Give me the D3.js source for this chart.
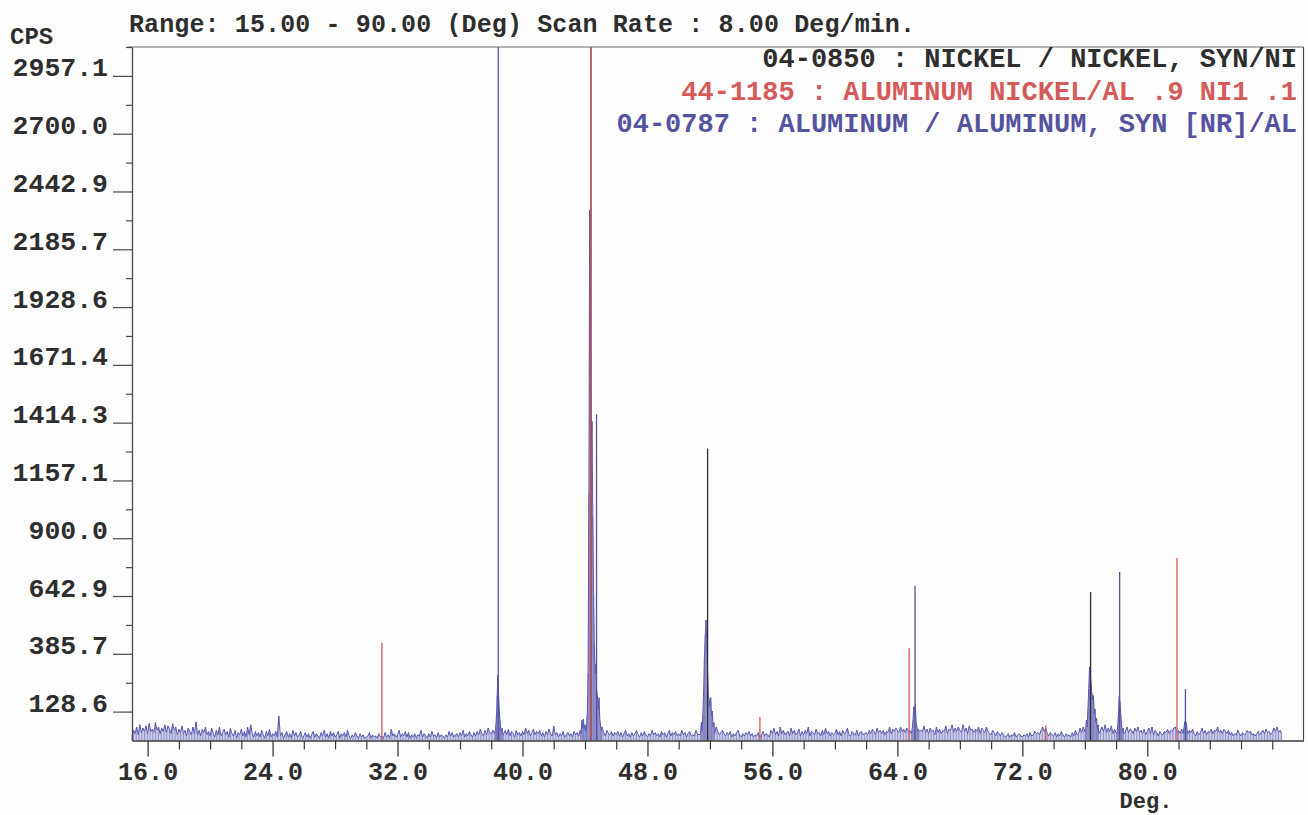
<!DOCTYPE html>
<html>
<head>
<meta charset="utf-8">
<script src="https://cdn.jsdelivr.net/npm/d3@7/dist/d3.min.js"></script>
<style>
  html, body { margin: 0; padding: 0; background: #fdfdfd; }
  svg { display: block; }
  text { font-family: "Liberation Mono", "DejaVu Sans Mono", monospace; font-weight: bold; }
</style>
</head>
<body>
<svg id="chart" width="1308" height="815"></svg>
<script>
// ---- Scan settings ----
const scanRange = [15, 90];          // 2-theta, degrees
const scanStart = 15.0;              // first sample of the measured trace
const scanStep = 0.1;                // sample spacing of the background trace
const yTop = 3085.7;                 // CPS at the top of the frame

// ---- Axis tick labels ----
const yTickLabels = ["128.6", "385.7", "642.9", "900.0", "1157.1", "1414.3",
  "1671.4", "1928.6", "2185.7", "2442.9", "2700.0", "2957.1"];
const yMinorTicks = [257.1, 514.3, 771.4, 1028.6, 1285.7, 1542.9, 1800.0,
  2057.1, 2314.3, 2571.4, 2828.6, 3085.7];
const xTickLabels = ["16.0", "24.0", "32.0", "40.0", "48.0", "56.0", "64.0", "72.0", "80.0"];
const xMinorTicks = [18, 20, 22, 26, 28, 30, 34, 36, 38, 42, 44, 46, 50, 52, 54,
  58, 60, 62, 66, 68, 70, 74, 76, 78, 82, 84, 86, 88];

// ---- Measured background counts, 15.0 .. 88.6 deg every 0.1 deg ----
const noiseCps = [
  20,45,30,60,25,70,35,55,40,65,
  30,75,40,50,35,80,45,60,30,55,
  40,70,35,65,50,30,75,45,60,25,
  50,35,65,30,45,20,55,40,25,60,
  30,83,25,45,20,50,35,60,25,40,
  20,55,30,15,45,25,60,20,35,50,
  25,40,15,55,30,20,45,10,35,25,
  50,20,40,15,60,25,70,30,15,40,
  20,35,15,45,25,10,40,20,50,15,
  30,20,40,15,109,20,35,10,25,40,
  15,30,10,45,20,35,15,25,40,10,
  20,35,15,30,10,25,40,15,30,20,
  10,35,20,45,15,30,10,40,20,35,
  15,25,40,10,30,20,35,15,45,20,
  10,25,15,35,20,10,30,15,25,10,
  15,20,35,10,25,15,20,10,30,15,
  20,10,35,15,25,10,50,20,30,15,
  25,45,15,30,20,40,15,35,10,25,
  15,30,10,25,20,45,15,30,20,10,
  30,15,40,20,25,10,35,15,25,20,
  10,25,15,40,20,35,15,25,30,15,
  35,20,45,15,30,20,40,25,15,35,
  20,40,25,50,30,20,45,25,55,35,
  30,45,25,60,40,50,45,35,30,45,
  25,50,20,40,30,15,45,25,35,20,
  40,25,55,30,45,20,35,50,25,40,
  30,45,20,35,15,40,25,50,30,20,
  64,25,35,15,30,20,40,15,25,35,
  20,30,15,40,25,35,20,45,30,20,
  25,30,20,35,25,30,20,35,25,30,
  30,40,35,20,45,30,25,40,20,35,
  25,40,20,35,15,30,45,20,30,15,
  35,20,30,45,25,15,35,20,40,25,
  15,30,20,45,25,35,20,30,15,40,
  25,35,15,30,45,20,35,25,40,20,
  30,20,45,25,35,15,30,40,20,25,
  20,45,30,25,40,30,25,35,30,25,
  30,25,35,40,60,40,25,35,45,30,
  20,35,25,40,15,30,20,35,45,25,
  15,30,20,35,25,40,20,30,15,25,
  20,35,15,25,40,20,30,25,15,45,
  30,55,25,40,20,60,30,45,25,35,
  40,20,55,30,45,25,35,50,20,40,
  25,45,30,60,20,40,35,25,50,30,
  35,20,45,25,55,30,40,20,35,25,
  30,50,25,40,20,45,30,35,55,25,
  20,40,30,25,45,20,35,40,25,30,
  35,25,45,30,50,40,25,55,35,45,
  30,45,25,40,35,60,30,50,40,55,
  45,35,60,40,50,35,55,40,45,50,
  40,45,50,40,40,45,40,65,35,50,
  30,55,40,45,25,60,35,50,30,45,
  40,65,30,50,45,70,35,55,40,60,
  45,35,70,40,55,30,65,45,50,35,
  50,40,60,30,55,45,35,60,40,30,
  25,45,35,20,40,30,20,35,25,15,
  20,30,15,25,20,35,15,25,30,20,
  15,25,20,30,15,35,20,25,40,30,
  35,25,45,60,40,55,30,20,35,25,
  20,35,15,30,20,40,25,15,30,20,
  25,15,35,20,45,25,30,55,35,60,
  40,50,35,45,40,50,35,45,40,50,
  45,60,40,70,35,55,40,65,30,50,
  35,45,40,40,40,40,40,60,35,50,
  45,30,55,40,60,35,45,30,50,25,
  40,55,30,60,25,45,35,20,40,30,
  25,40,35,50,30,45,40,55,60,35,
  45,30,50,40,40,40,40,45,35,50,
  30,20,40,25,35,55,30,45,25,40,
  35,50,30,45,40,60,35,45,30,50,
  40,30,45,25,35,20,30,25,45,30,
  20,35,25,30,45,35,40,25,30,20,
  30,40,25,35,45,30,50,35,40,25,
  35,55,40,60,35,45,30
];

// ---- Measured reflections, finer sampling [deg, CPS] ----
const peak38 = [[38.20,30],[38.26,45],[38.30,70],[38.34,120],[38.38,200],[38.42,290],
  [38.45,260],[38.48,180],[38.52,130],[38.56,90],[38.60,60],[38.65,40],[38.70,55],[38.75,25],[38.80,30]];
const peak44 = [[43.75,30],[43.80,90],[43.85,55],[43.90,95],[43.95,50],[44.00,70],[44.05,40],
  [44.10,60],[44.15,120],[44.20,300],[44.25,1100],[44.30,2360],[44.35,1900],[44.40,1300],
  [44.45,1420],[44.50,1000],[44.55,650],[44.60,420],[44.65,300],[44.70,340],[44.75,220],
  [44.80,200],[44.85,140],[44.90,190],[44.95,90],[45.00,70],[45.05,45],[45.10,60]];
const peak52 = [[51.40,30],[51.45,80],[51.50,40],[51.55,120],[51.60,230],[51.65,380],[51.70,470],
  [51.75,536],[51.80,430],[51.85,300],[51.90,195],[51.95,180],[52.00,150],[52.05,190],
  [52.10,110],[52.15,130],[52.20,60],[52.25,80],[52.30,30]];
const peak65 = [[64.90,30],[64.95,50],[65.00,90],[65.05,150],[65.10,120],[65.15,160],
  [65.20,80],[65.25,60],[65.30,40],[65.35,50]];
const peak76 = [[76.05,40],[76.10,90],[76.15,60],[76.20,140],[76.25,230],[76.30,328],[76.35,300],
  [76.40,250],[76.45,210],[76.50,180],[76.55,200],[76.60,120],[76.65,140],[76.70,80],
  [76.75,100],[76.80,50],[76.85,70],[76.90,30]];
const peak78 = [[78.05,30],[78.10,60],[78.15,110],[78.20,195],[78.25,170],[78.30,120],
  [78.35,70],[78.40,40],[78.45,55],[78.50,30]];
const peak82 = [[82.30,30],[82.35,55],[82.40,84],[82.45,70],[82.50,80],[82.55,45],[82.60,30]];

// ---- Reference cards: line positions (deg) and relative intensity (%) ----
const niCard = "04-0850 : NICKEL / NICKEL, SYN/NI";
const niAngles = [44.38, 51.85, 76.37];
const niIntensity = [100, 42.1, 21.4];

const nialCard = "44-1185 : ALUMINUM NICKEL/AL .9 NI1 .1";
const nialAngles = [31.0, 44.38, 55.2, 64.75, 73.5, 81.9];
const nialIntensity = [14.1, 100, 3.4, 13.3, 2.2, 26.3];

const alCard = "04-0787 : ALUMINUM / ALUMINUM, SYN [NR]/AL";
const alAngles = [38.45, 44.74, 65.13, 78.23, 82.44];
const alIntensity = [100, 47, 22.3, 24.3, 7.4];

// ---- Layout ----
const svg = d3.select("#chart");
const ink = "#2e2e2e";
const traceColor = "#5a58ae";
const nickelColor = "#303030";
const nialColor = "#d55a5a";
const alColor = "#55539f";

const x = d3.scaleLinear().domain(scanRange).range([132, 1303.5]);
const y = d3.scaleLinear().domain([0, yTop]).range([740.5, 47]);

// Measured trace: background samples outside the peak windows plus the peak profiles
const peaks = [peak38, peak44, peak52, peak65, peak76, peak78, peak82];
const windows = peaks.map(p => [p[0][0], p[p.length - 1][0]]);
const tracePts = noiseCps
  .map((c, i) => [+(scanStart + i * scanStep).toFixed(2), c])
  .filter(d => !windows.some(w => d[0] >= w[0] - 1e-9 && d[0] <= w[1] + 1e-9))
  .concat(...peaks)
  .sort((a, b) => a[0] - b[0]);

// counts drawn as a dense comb from the baseline, outlined by the profile line
svg.append("g").selectAll("line")
  .data(tracePts)
  .join("line")
  .attr("x1", d => x(d[0])).attr("x2", d => x(d[0]))
  .attr("y1", y(0)).attr("y2", d => y(d[1]))
  .attr("stroke", traceColor)
  .attr("stroke-opacity", 0.75)
  .attr("stroke-width", 0.9);

svg.append("path")
  .datum(tracePts)
  .attr("fill", "none")
  .attr("stroke", traceColor)
  .attr("stroke-width", 1)
  .attr("stroke-linejoin", "round")
  .attr("d", d3.line().x(d => x(d[0])).y(d => y(d[1])));

// Reference sticks, scaled so 100 % reaches the top of the frame
function sticks(angles, intensity, color) {
  svg.append("g").selectAll("line")
    .data(angles.map((a, i) => [a, intensity[i]]))
    .join("line")
    .attr("x1", d => x(d[0])).attr("x2", d => x(d[0]))
    .attr("y1", y(0)).attr("y2", d => y(d[1] / 100 * yTop))
    .attr("stroke", color)
    .attr("stroke-width", 1.3);
}
sticks(niAngles, niIntensity, nickelColor);
sticks(alAngles, alIntensity, alColor);
sticks(nialAngles, nialIntensity, nialColor);

// Frame: top and right edges
svg.append("line").attr("x1", 128).attr("x2", x(scanRange[1])).attr("y1", y(yTop)).attr("y2", y(yTop))
  .attr("stroke", "#6a6a6a").attr("stroke-width", 1.2);
svg.append("line").attr("x1", x(scanRange[1])).attr("x2", x(scanRange[1])).attr("y1", y(yTop)).attr("y2", y(0))
  .attr("stroke", "#4a4a4a").attr("stroke-width", 1.2);

// Y axis: labelled ticks with the value sitting on the tick
const yAxis = svg.append("g").attr("transform", `translate(${x(scanRange[0])},0)`)
  .call(d3.axisLeft(y).tickValues(yTickLabels.map(Number)).tickSize(19).tickSizeOuter(0)
    .tickFormat((d, i) => yTickLabels[i]));
yAxis.select(".domain").attr("stroke", "#4a4a4a").attr("stroke-width", 1.3);
yAxis.selectAll(".tick line").attr("stroke", "#4a4a4a").attr("stroke-width", 1.2);
yAxis.selectAll(".tick text").attr("x", -24).attr("dy", "0").attr("dominant-baseline", "auto")
  .attr("fill", ink).style("font-size", "26.5px").style("font-family", null);

const yMinor = svg.append("g").attr("transform", `translate(${x(scanRange[0])},0)`)
  .call(d3.axisLeft(y).tickValues(yMinorTicks).tickSize(6).tickSizeOuter(0).tickFormat(""));
yMinor.select(".domain").remove();
yMinor.selectAll(".tick line").attr("stroke", "#4a4a4a").attr("stroke-width", 1.2);

// X axis
const xAxis = svg.append("g").attr("transform", `translate(0,${y(0)})`)
  .call(d3.axisBottom(x).tickValues(xTickLabels.map(Number)).tickSize(16).tickSizeOuter(0)
    .tickFormat((d, i) => xTickLabels[i]));
xAxis.select(".domain").attr("stroke", "#3a3a3a").attr("stroke-width", 1.3);
xAxis.selectAll(".tick line").attr("stroke", "#3a3a3a").attr("stroke-width", 1.3);
xAxis.selectAll(".tick text").attr("y", 39.5).attr("dy", "0")
  .attr("fill", ink).style("font-size", "25px").style("font-family", null);

const xMinor = svg.append("g").attr("transform", `translate(0,${y(0)})`)
  .call(d3.axisBottom(x).tickValues(xMinorTicks).tickSize(9).tickSizeOuter(0).tickFormat(""));
xMinor.select(".domain").remove();
xMinor.selectAll(".tick line").attr("stroke", "#3a3a3a").attr("stroke-width", 1.2);

// Titles and card legend
svg.append("text").attr("x", 10).attr("y", 44).attr("fill", ink)
  .style("font-size", "24px").text("CPS");
svg.append("text").attr("x", 129).attr("y", 32).attr("fill", ink)
  .style("font-size", "25px").attr("textLength", 786).attr("lengthAdjust", "spacing")
  .text("Range: 15.00 - 90.00 (Deg) Scan Rate : 8.00 Deg/min.");
svg.append("text").attr("x", 1146).attr("y", 808).attr("fill", ink).attr("text-anchor", "middle")
  .style("font-size", "22px").text("Deg.");

const legend = [[niCard, ink, 67], [nialCard, nialColor, 100], [alCard, alColor, 132]];
svg.append("g").selectAll("text").data(legend).join("text")
  .attr("x", 1297).attr("y", d => d[2]).attr("text-anchor", "end")
  .attr("fill", d => d[1]).style("font-size", "27px")
  .text(d => d[0]);
</script>
</body>
</html>
